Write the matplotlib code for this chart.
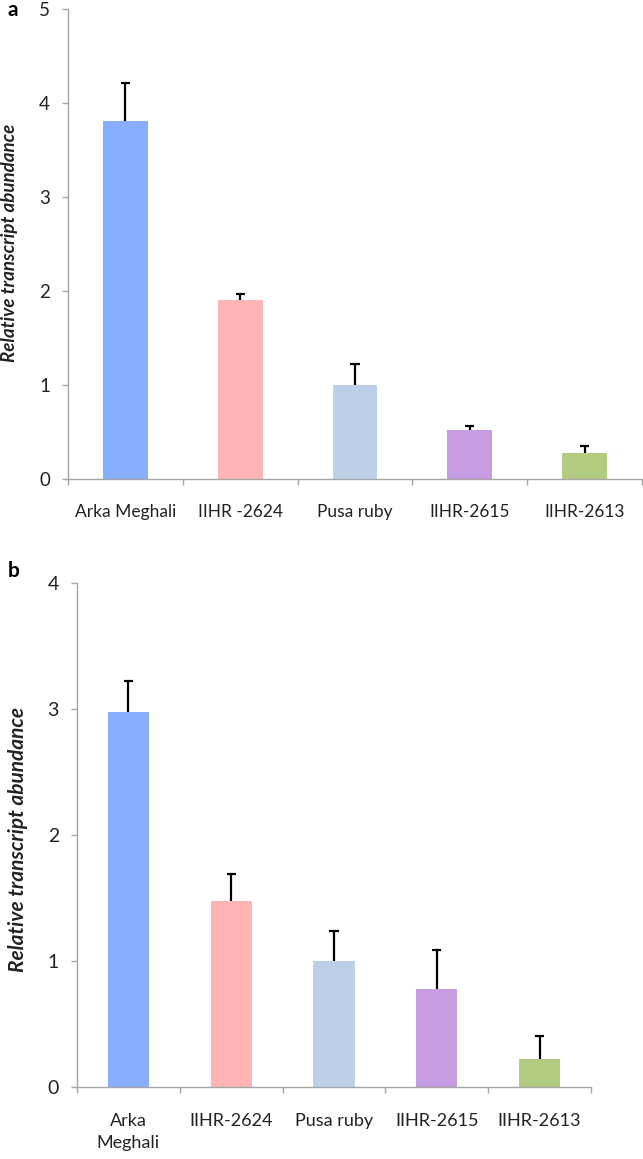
import matplotlib
matplotlib.use("Agg")
import matplotlib.pyplot as plt

categories_a = ["Arka Meghali", "IIHR -2624", "Pusa ruby", "IIHR-2615", "IIHR-2613"]
categories_b = ["Arka\nMeghali", "IIHR-2624", "Pusa ruby", "IIHR-2615", "IIHR-2613"]
values_a = [3.81, 1.90, 1.00, 0.52, 0.28]
errors_a = [0.40, 0.07, 0.225, 0.04, 0.066]
values_b = [2.98, 1.48, 1.00, 0.78, 0.22]
errors_b = [0.24, 0.21, 0.235, 0.31, 0.185]
yticks_a = [0, 1, 2, 3, 4, 5]
yticks_b = [0, 1, 2, 3, 4]
colors = ["#88AEFF", "#FFB5B6", "#BCD0E8", "#C59DE0", "#B4CB82"]

FONT = ["Lato", "DejaVu Sans"]
plt.rcParams["font.family"] = FONT
TXT = "#222222"
SPINE = "#A6A6A6"

W, H = 643, 1159
fig = plt.figure(figsize=(W / 100, H / 100), dpi=100)


def make_ax(left, right, top, bottom):
    return fig.add_axes([left / W, 1 - bottom / H, (right - left) / W, (bottom - top) / H])


def draw(ax, cats, vals, errs, yticks, width, capfrac, fs, xpad):
    x = list(range(len(cats)))
    ax.bar(x, vals, width=width, color=colors, zorder=2)
    tops = [v + e for v, e in zip(vals, errs)]
    ax.vlines(x, vals, tops, color="black", lw=1.6, zorder=3)
    ax.hlines(tops, [xi - capfrac for xi in x], [xi + capfrac for xi in x],
              color="black", lw=1.6, zorder=3)
    ax.set_xlim(-0.5, len(cats) - 0.5)
    ax.set_ylim(yticks[0], yticks[-1])
    ax.set_yticks(yticks)
    ax.set_yticklabels([str(t) for t in yticks], fontsize=fs + 1, color=TXT)
    ax.set_xticks([i - 0.5 for i in range(len(cats) + 1)])
    ax.set_xticklabels([])
    ax.set_xticks(x, minor=True)
    ax.set_xticklabels(cats, minor=True, fontsize=fs, color=TXT, linespacing=1.45)
    ax.tick_params(axis="x", which="minor", length=0, pad=xpad)
    ax.tick_params(axis="x", which="major", length=4, width=1, color=SPINE)
    ax.tick_params(axis="y", length=4, width=1, color=SPINE, pad=9)
    for s in ["top", "right"]:
        ax.spines[s].set_visible(False)
    for s in ["left", "bottom"]:
        ax.spines[s].set_color(SPINE)
        ax.spines[s].set_linewidth(1)


ax1 = make_ax(68, 642, 9, 479)
draw(ax1, categories_a, values_a, errors_a, yticks_a, 0.39, 0.04, 12.5, 18)
ax2 = make_ax(77, 591, 583, 1087)
draw(ax2, categories_b, values_b, errors_b, yticks_b, 0.40, 0.045, 13, 19)

fig.text(10 / W, 1 - 243 / H, "Relative transcript abundance", rotation=90,
         ha="center", va="center", fontsize=13.5, fontweight="bold", fontstyle="italic", color=TXT)
fig.text(18 / W, 1 - 840 / H, "Relative transcript abundance", rotation=90,
         ha="center", va="center", fontsize=15, fontweight="bold", fontstyle="italic", color=TXT)
fig.text(8 / W, 1 - 10 / H, "a", ha="left", va="center", fontsize=15, fontweight="bold", color="black")
fig.text(8 / W, 1 - 571 / H, "b", ha="left", va="center", fontsize=15, fontweight="bold", color="black")

fig.savefig("out.png", dpi=100)
